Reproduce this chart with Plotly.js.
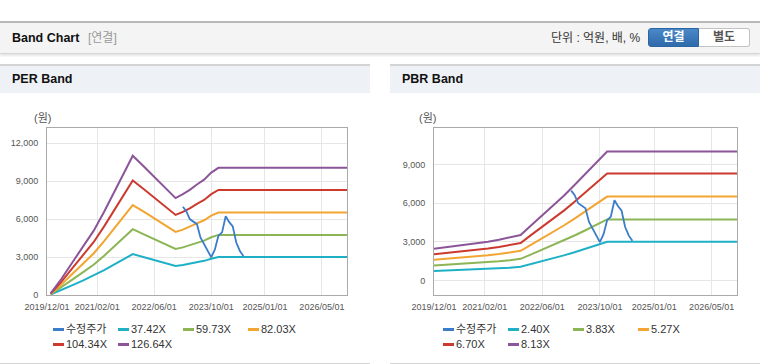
<!DOCTYPE html>
<html><head><meta charset="utf-8">
<script src="https://cdn.plot.ly/plotly-3.0.1.min.js"></script>
<style>
body{margin:0;width:760px;height:364px;overflow:hidden;background:#fff;font-family:"Liberation Sans","Noto Sans CJK KR",Arial,sans-serif;position:relative}
#hdr{position:absolute;left:0;top:21px;width:760px;height:30px;background:#f4f4f4;border-top:2px solid #b9b9b9;border-bottom:1px solid #d6d6d6;box-shadow:0 2px 2px rgba(0,0,0,0.10)}
#hdr .t{position:absolute;left:12px;top:0;line-height:30px;font-size:12.5px;font-weight:bold;color:#111}
#hdr .s{position:absolute;left:88px;top:0;line-height:30px;font-size:12px;color:#999}
#hdr .u{position:absolute;left:551px;top:0;line-height:30px;font-size:12px;color:#333}
.btn{position:absolute;top:5px;height:19px;width:51px;box-sizing:border-box;text-align:center;line-height:17px;font-size:12px;font-weight:bold}
#b1{left:648px;background:linear-gradient(#4a88c8,#2f6aab);border:1px solid #2d64a2;color:#fff;border-radius:3px 0 0 3px}
#b2{left:699px;background:#fff;border:1px solid #c2c2c2;border-left:none;color:#555;border-radius:0 3px 3px 0}
.panel{position:absolute;top:64px;width:370px;height:297px;border-top:2px solid #d4d4d4;border-bottom:2px solid #d4d4d4}
.panel .ph{height:27px;background:#eef2f7;line-height:27px;font-size:12.5px;font-weight:bold;color:#111;padding-left:12px}
.plot{position:absolute;top:95px;width:370px;height:225px}
.leg{position:absolute;font-size:11px;color:#333;white-space:nowrap;line-height:14px}
.leg i{position:absolute;top:6px;left:0;width:11px;height:2.5px}
.leg span{position:absolute;left:13px;top:0}
</style></head>
<body>
<div id="hdr"><div class="t">Band Chart</div><div class="s">[연결]</div><div class="u">단위 : 억원, 배, %</div><div class="btn" id="b1">연결</div><div class="btn" id="b2">별도</div></div>
<div class="panel" style="left:0"><div class="ph">PER Band</div></div>
<div class="panel" style="left:390px"><div class="ph">PBR Band</div></div>
<div class="plot" id="per" style="left:0"></div>
<div class="plot" id="pbr" style="left:390px"></div>
<div id="legs"></div>
<script>
// ---- data ----
var priceName = '수정주가';
var priceDates = ['2023-02-01','2023-03-01','2023-04-01','2023-05-01','2023-06-01','2023-07-01','2023-08-01','2023-09-01','2023-10-01','2023-11-01','2023-12-01','2024-01-01','2024-02-01','2024-03-01','2024-04-01','2024-05-01','2024-06-01','2024-07-01'];
var priceValues = [6980,6650,6000,5820,5600,4550,4000,3480,2980,3600,4680,4950,6230,5780,5420,4150,3480,3090];

var perNames = ['37.42X','59.73X','82.03X','104.34X','126.64X'];
var perDates = ['2020-01-01','2020-04-01','2020-07-01','2020-10-01','2021-01-01','2021-04-01','2021-07-01','2021-10-01','2021-12-01','2022-03-01','2022-06-01','2022-09-01','2022-12-01','2023-02-01','2023-04-01','2023-06-01','2023-08-01','2023-10-01','2023-12-01','2026-12-01'];
var per1 = [37,374,760,1130,1520,1960,2440,2930,3230,3000,2760,2500,2300,2370,2460,2590,2700,2870,3000,3000];
var per2 = [60,597,1195,1792,2389,3106,3882,4659,5200,4808,4420,4002,3640,3763,3918,4121,4301,4563,4750,4750];
var per3 = [82,820,1641,2461,3281,4266,5332,6398,7100,6603,6070,5496,4990,5168,5381,5660,5906,6267,6520,6520];
var per4 = [104,1043,2087,3130,4174,5426,6782,8139,9060,8399,7721,6991,6330,6573,6845,7199,7512,7972,8300,8300];
var per5 = [127,1266,2533,3799,5066,6585,8232,9878,11010,10195,9371,8485,7660,7978,8308,8738,9118,9675,10050,10050];

var pbrNames = ['2.40X','3.83X','5.27X','6.70X','8.13X'];
var pbrDates = ['2019-12-01','2020-03-01','2020-06-01','2020-09-01','2020-12-01','2021-03-01','2021-06-01','2021-09-01','2021-12-01','2022-03-01','2022-06-01','2022-09-01','2022-12-01','2023-03-01','2023-06-01','2023-09-01','2023-12-01','2026-12-01'];
var pbr1 = [740,770,800,830,860,895,940,990,1060,1267,1490,1714,1944,2189,2443,2700,3000,3000];
var pbr2 = [1164,1210,1260,1310,1360,1417,1490,1570,1680,2022,2378,2735,3102,3493,3899,4309,4740,4740];
var pbr3 = [1602,1665,1734,1802,1871,1950,2050,2161,2300,2783,3273,3763,4269,4806,5365,5929,6520,6520];
var pbr4 = [2037,2117,2204,2291,2379,2479,2606,2747,2910,3538,4161,4784,5427,6110,6821,7538,8310,8310];
var pbr5 = [2460,2560,2665,2775,2886,3008,3163,3333,3530,4293,5049,5805,6585,7415,8276,9146,10020,10020];

var xTicks = ['2019-12-01','2021-02-01','2022-06-01','2023-10-01','2025-01-01','2026-05-01'];
var perYTicks = [0,3000,6000,9000,12000];
var pbrYTicks = [0,3000,6000,9000];

var priceColor = '#3b7dc9';
var bandColors = ['#1eb1c6','#8cb555','#f2a531','#cc3a2f','#8c5599'];

// ---- build ----
var FONT = '"Liberation Sans", "Noto Sans CJK KR", Arial, sans-serif';
function traces(dates, bands, names){
  var t = [{x: priceDates, y: priceValues, name: priceName, type:'scatter', mode:'lines', line:{color: priceColor, width:1.8}}];
  for (var i=0;i<bands.length;i++){
    t.push({x: dates, y: bands[i], name: names[i], type:'scatter', mode:'lines', line:{color: bandColors[i], width:2}});
  }
  // draw bands beneath price
  return t.slice(1).concat([t[0]]);
}
function layout(yrange, yticks, lblX){
  return {
    width:370, height:225, margin:{l:47, r:23, t:33, b:25},
    paper_bgcolor:'rgba(0,0,0,0)', plot_bgcolor:'#fff', showlegend:false,
    font:{family: FONT, size:9, color:'#555'},
    xaxis:{type:'date', range:['2019-12-01','2026-12-01'], tickvals: xTicks, tickformat:'%Y/%m/%d',
      showgrid:true, gridcolor:'#e6e6e6', showline:true, mirror:true, linecolor:'#aaaaaa', linewidth:1,
      ticks:'', ticklabelstandoff:3, tickfont:{size:9, color:'#555'}, zeroline:false, fixedrange:true},
    yaxis:{range: yrange, tickvals: yticks, tickformat:',d', showgrid:true, gridcolor:'#e6e6e6',
      showline:true, mirror:true, linecolor:'#aaaaaa', linewidth:1, ticks:'', ticklabelstandoff:6,
      tickfont:{size:9, color:'#555'}, zeroline:false, fixedrange:true},
    annotations:[{text:'(원)', xref:'paper', yref:'paper', x: lblX, y: 1.06, xanchor:'center', yanchor:'middle',
      showarrow:false, font:{size:11, color:'#555', family: FONT}}]
  };
}
var cfg = {staticPlot:true, displayModeBar:false};
Plotly.newPlot('per', traces(perDates, [per1,per2,per3,per4,per5], perNames), layout([0,13200], perYTicks, -0.015), cfg);
var lp = layout([-1135,11850], pbrYTicks, -0.02); lp.margin.l = 44;
Plotly.newPlot('pbr', traces(pbrDates, [pbr1,pbr2,pbr3,pbr4,pbr5], pbrNames), lp, cfg);

// ---- legends (HTML) ----
function legend(left, names){
  var all = [priceName].concat(names), cols = [priceColor].concat(bandColors);
  var box = document.getElementById('legs');
  for (var i=0;i<all.length;i++){
    var d = document.createElement('div'); d.className='leg';
    d.style.left = (left + (i%4)*65) + 'px';
    d.style.top = (322 + Math.floor(i/4)*15) + 'px';
    d.innerHTML = '<i style="background:'+cols[i]+'"></i><span>'+all[i]+'</span>';
    box.appendChild(d);
  }
}
legend(53, perNames);
legend(443, pbrNames);
</script>
</body></html>
